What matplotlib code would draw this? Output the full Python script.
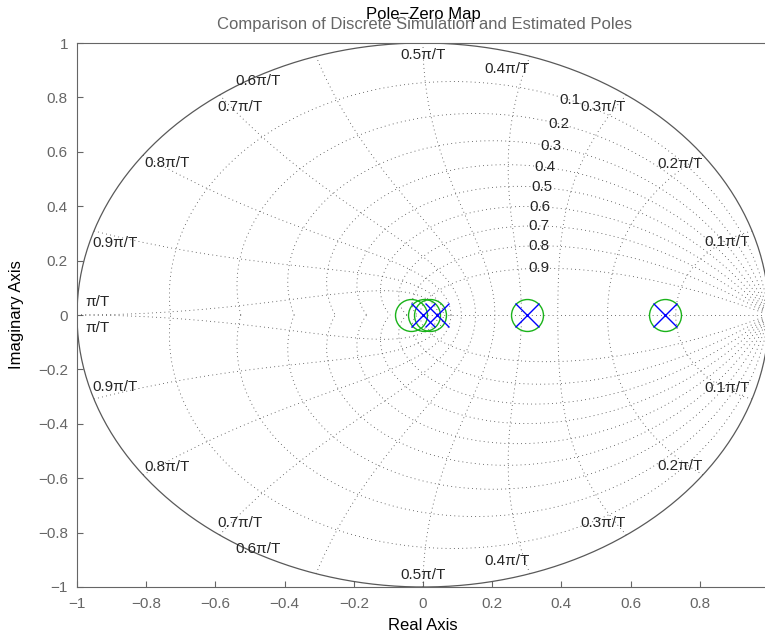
import numpy as np
import matplotlib.pyplot as plt

plt.rcParams['font.family'] = ['Liberation Sans', 'DejaVu Sans']

# pole / zero locations
poles = [0.0, 0.04, 0.3, 0.7]
zeros_ = [-0.036, 0.003, 0.019, 0.3, 0.7]

zetas = [0.1, 0.2, 0.3, 0.4, 0.5, 0.6, 0.7, 0.8, 0.9]
wn_k = [1, 2, 3, 4, 5, 6, 7, 8, 9, 10]   # multiples of 0.1*pi/T
wn_labels = ['0.1π/T', '0.2π/T', '0.3π/T', '0.4π/T', '0.5π/T',
             '0.6π/T', '0.7π/T', '0.8π/T', '0.9π/T', 'π/T']

# where the frequency labels sit (polar, degrees / radius)
lab_ang = [17, 36.8, 55.7, 75, 90, 119, 124.6, 142.9, 163.4, 177]
lab_rad = [0.919, 0.927, 0.925, 0.936, 0.956, 0.985, 0.929, 0.928, 0.929, 0.943]

fig = plt.figure(figsize=(7.65, 6.41), dpi=100)
ax = fig.add_axes([77/765, 54/641, 692/765, 544/641])

grid_kw = dict(color='0.25', ls=(0, (1, 4)), lw=0.6)
lab_kw = dict(ha='center', va='center', fontsize=11, color='0.15')

# damping ratio lines
th = np.linspace(0, np.pi, 200)
for z in zetas:
    m = z / np.sqrt(1 - z**2)
    zz = np.exp(-m * th) * np.exp(1j * th)
    ax.plot(zz.real, zz.imag, **grid_kw)
    ax.plot(zz.real, -zz.imag, **grid_kw)
    w = 0.345 * np.pi
    p = np.exp(-z * w + 1j * w * np.sqrt(1 - z**2))
    ax.text(p.real, p.imag, str(z), **lab_kw)

# natural frequency lines
zt = np.linspace(0, 1, 200)
for k, lab, a, r in zip(wn_k, wn_labels, lab_ang, lab_rad):
    w = k * np.pi / 10
    zz = np.exp(-zt * w + 1j * w * np.sqrt(1 - zt**2))
    ax.plot(zz.real, zz.imag, **grid_kw)
    ax.plot(zz.real, -zz.imag, **grid_kw)
    lx, ly = r * np.cos(np.radians(a)), r * np.sin(np.radians(a))
    ax.text(lx, ly, lab, **lab_kw)
    ax.text(lx, -ly, lab, **lab_kw)

# real axis segment
ax.plot([0, 1], [0, 0], **grid_kw)

# unit circle
t = np.linspace(0, 2 * np.pi, 400)
ax.plot(np.cos(t), np.sin(t), color='0.35', lw=0.9)

ax.plot(zeros_, np.zeros(len(zeros_)), 'o', mfc='none', mec=(0.1, 0.7, 0.1),
        ms=23, mew=1.0, ls='none')
ax.plot(poles, np.zeros(len(poles)), 'x', color='blue', ms=17, mew=1.0, ls='none')

ax.set_xlim(-1, 1)
ax.set_ylim(-1, 1)
xt = np.arange(-1, 0.81, 0.2)
yt = np.arange(-1, 1.01, 0.2)
fmt = lambda v: '0' if abs(v) < 1e-9 else ('%g' % round(v, 1)).replace('-', '−')
ax.set_xticks(xt)
ax.set_yticks(yt)
ax.set_xticklabels([fmt(v) for v in xt])
ax.set_yticklabels([fmt(v) for v in yt])
ax.tick_params(direction='in', length=4, colors='0.4', labelsize=11,
               top=False, right=False)
ax.tick_params(axis='x', pad=7)
ax.tick_params(axis='y', pad=6.5)
for s in ax.spines.values():
    s.set_color('0.4')
ax.set_xlabel('Real Axis', fontsize=12)
ax.set_ylabel('Imaginary Axis', fontsize=12)
ax.xaxis.set_label_coords((423 - 77) / 692, -(626 - 587) / 544)
ax.yaxis.set_label_coords(-(77 - 17) / 692, 0.5)
ax.xaxis.label.set_va('center')
ax.yaxis.label.set_va('center')

fig.text(423/765, 1 - 14/641, 'Pole−Zero Map', ha='center', va='center', fontsize=12)
fig.text(425/765, 1 - 25/641, 'Comparison of Discrete Simulation and Estimated Poles',
         ha='center', va='center', fontsize=12, color='0.4')

fig.savefig('out.png', dpi=100)
